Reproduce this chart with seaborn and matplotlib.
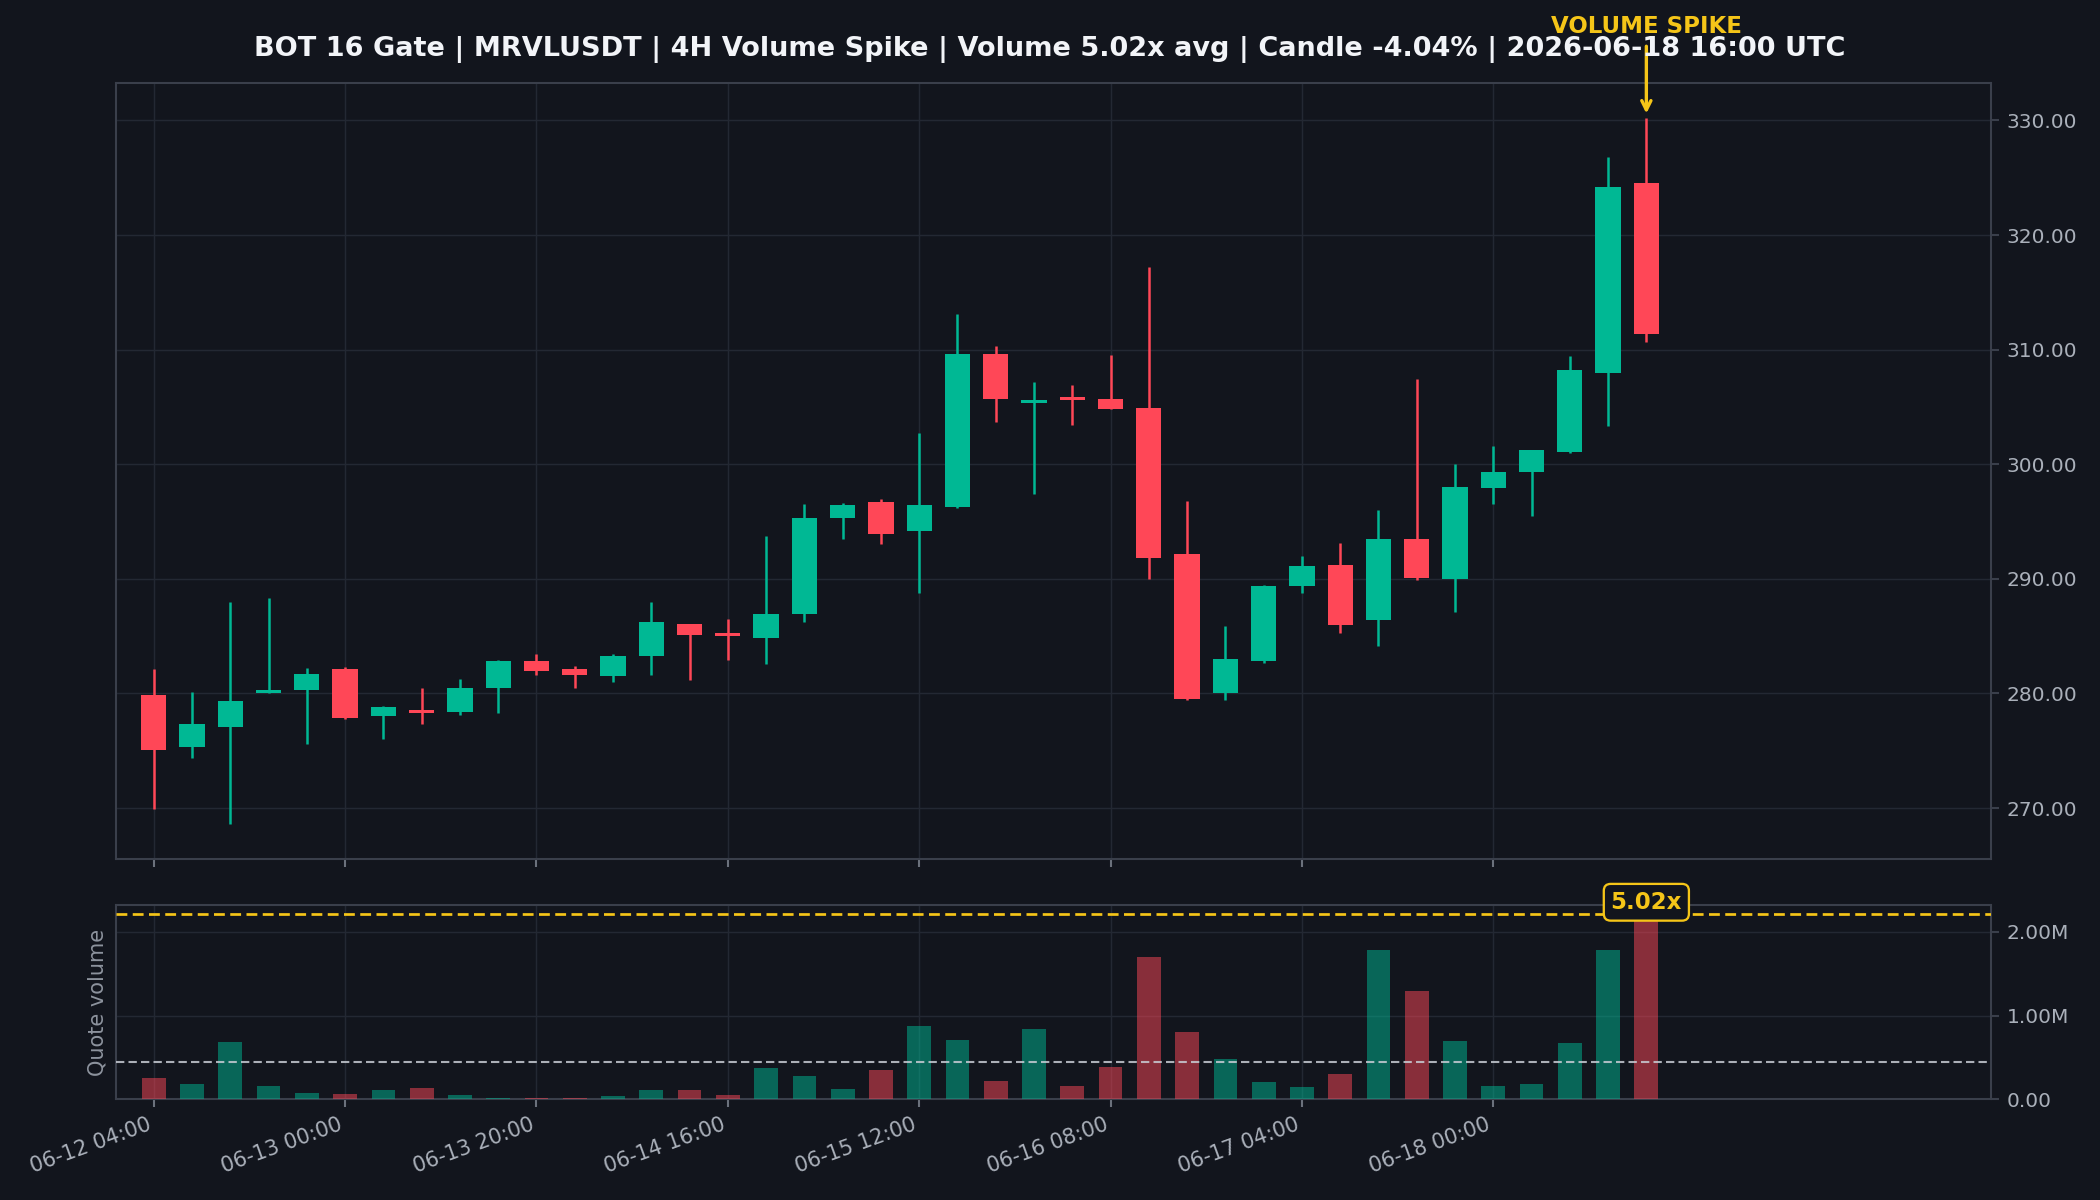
import pandas as pd
import seaborn as sns
import matplotlib.pyplot as plt
from matplotlib.ticker import FuncFormatter

# 4H candles, 2026-06-12 04:00 -> 2026-06-18 16:00 UTC
opens = [279.9, 275.3, 277.1, 280.0, 280.3, 282.1, 278.0, 278.6, 278.4, 280.5,
         282.8, 282.1, 281.5, 283.3, 286.1, 285.2, 284.8, 286.9, 295.3, 296.7,
         294.2, 296.3, 309.6, 305.3, 305.8, 305.7, 304.9, 292.2, 280.0, 282.8,
         289.4, 291.2, 286.4, 293.5, 290.0, 297.9, 299.3, 301.1, 308.0, 324.5]
highs = [282.1, 280.1, 288.0, 288.3, 282.2, 282.3, 278.9, 280.5, 281.3, 282.9,
         283.4, 282.4, 283.4, 288.0, 286.1, 286.5, 293.7, 296.5, 296.6, 297.0,
         302.7, 313.1, 310.3, 307.2, 306.9, 309.5, 317.2, 296.8, 285.9, 289.5,
         292.0, 293.1, 296.0, 307.4, 300.0, 301.6, 301.2, 309.4, 326.8, 330.2]
lows = [269.9, 274.4, 268.6, 280.0, 275.6, 277.8, 276.0, 277.3, 278.1, 278.3,
        281.6, 280.5, 281.0, 281.6, 281.2, 282.9, 282.6, 286.2, 293.5, 293.0,
        288.8, 296.2, 303.7, 297.4, 303.4, 304.8, 290.0, 279.4, 279.4, 282.7,
        288.8, 285.3, 284.1, 289.9, 287.1, 296.5, 295.5, 301.0, 303.3, 310.7]
closes = [275.1, 277.3, 279.3, 280.3, 281.7, 277.9, 278.8, 278.3, 280.5, 282.8,
          282.0, 281.6, 283.3, 286.2, 285.1, 285.0, 286.9, 295.3, 296.4, 293.9,
          296.4, 309.6, 305.7, 305.6, 305.6, 304.8, 291.8, 279.5, 283.0, 289.4,
          291.1, 286.0, 293.5, 290.1, 298.0, 299.3, 301.2, 308.2, 324.2, 311.4]
# quote volume, millions
volumes = [0.257, 0.185, 0.679, 0.161, 0.076, 0.064, 0.104, 0.137, 0.052, 0.016,
           0.016, 0.016, 0.040, 0.104, 0.112, 0.052, 0.378, 0.281, 0.125, 0.353,
           0.871, 0.703, 0.221, 0.835, 0.161, 0.390, 1.703, 0.799, 0.486, 0.209,
           0.149, 0.305, 1.787, 1.293, 0.691, 0.161, 0.185, 0.667, 1.787, 2.210]
avg_volume = 0.44
spike_ratio = 5.02
candle_change = -4.04

tick_labels = ["06-12 04:00", "06-13 00:00", "06-13 20:00", "06-14 16:00",
               "06-15 12:00", "06-16 08:00", "06-17 04:00", "06-18 00:00"]
price_ticks = [270, 280, 290, 300, 310, 320, 330]
volume_ticks = [0, 1, 2]

BG = "#12151d"
GRID = "#232833"
SPINE = "#3a3f4b"
TXT = "#aab0ba"
GREEN = "#00b894"
RED = "#ff4757"
YELLOW = "#f5c518"

df = pd.DataFrame({"open": opens, "high": highs, "low": lows,
                   "close": closes, "volume": volumes})
df["idx"] = range(len(df))
df["dir"] = ["up" if c >= o else "down" for o, c in zip(df.open, df.close)]
colors = [GREEN if d == "up" else RED for d in df["dir"]]

sns.set_theme(style="dark", rc={
    "figure.facecolor": BG, "axes.facecolor": BG, "axes.edgecolor": SPINE,
    "axes.linewidth": 1.0, "grid.color": GRID, "text.color": "white",
    "xtick.color": TXT, "ytick.color": TXT, "axes.labelcolor": TXT,
    "patch.edgecolor": "none", "patch.linewidth": 0,
})
plt.rcParams["font.family"] = ["DejaVu Sans"]

fig, (ax, axv) = plt.subplots(2, 1, figsize=(14, 8), dpi=150, sharex=True,
                              gridspec_kw=dict(height_ratios=[4, 1]))
fig.subplots_adjust(left=0.055, right=0.948, top=0.931, bottom=0.084, hspace=0.094)

# candles
ax.vlines(df.idx, df.low, df.high, colors=colors, lw=1.2, zorder=2)
body_low = df[["open", "close"]].min(axis=1)
body_h = (df.close - df.open).abs().clip(lower=0.3)
ax.bar(df.idx, body_h, bottom=body_low, width=0.66, color=colors,
       linewidth=0, edgecolor="none", zorder=3)

span = df.high.max() - df.low.min()
ax.set_ylim(df.low.min() - 0.05 * span, df.high.max() + 0.05 * span)
ax.set_yticks(price_ticks)
ax.yaxis.set_major_formatter(FuncFormatter(lambda v, p: f"{v:.2f}"))

# volume
sns.barplot(data=df, x="idx", y="volume", hue="dir",
            palette={"up": GREEN, "down": RED}, native_scale=True, dodge=False,
            width=0.62, saturation=1, alpha=0.5, errorbar=None, legend=False,
            linewidth=0, edgecolor="none", ax=axv, zorder=3)
spike = volumes[-1]
axv.axhline(spike, color=YELLOW, lw=1.3, ls=(0, (4, 2)), zorder=4)
axv.axhline(avg_volume, color="#c8ccd4", lw=1.0, ls=(0, (4, 2)), alpha=0.85, zorder=4)
axv.set_ylim(0, spike * 1.05)
axv.set_yticks(volume_ticks)
axv.yaxis.set_major_formatter(
    FuncFormatter(lambda v, p: "0.00" if v == 0 else f"{v:.2f}M"))
axv.set_xlabel("")
axv.set_ylabel("Quote volume", fontsize=10, color="#8d939e")
axv.text(df.idx.iloc[-1], spike * 1.065, f"{spike_ratio:.2f}x", ha="center",
         va="center", color=YELLOW, fontsize=11, fontweight="bold", zorder=6,
         clip_on=False,
         bbox=dict(boxstyle="round,pad=0.3", fc=BG, ec=YELLOW, lw=1.1))

for a in (ax, axv):
    a.grid(True, color=GRID, lw=0.7)
    a.set_axisbelow(True)
    a.yaxis.tick_right()
    a.tick_params(axis="y", right=True, left=False, length=4, width=1,
                  color=SPINE, labelsize=9.7, labelcolor=TXT)
    a.tick_params(axis="x", bottom=True, length=4, width=1, color="#6b717c")
    for s in a.spines.values():
        s.set_color(SPINE)

axv.set_xticks(df.idx[::5])
axv.set_xticklabels(tick_labels, rotation=20, ha="right", fontsize=10, color=TXT)
ax.set_xlim(-1, 48)

# title and spike marker
fig.suptitle(f"BOT 16 Gate | MRVLUSDT | 4H Volume Spike | Volume {spike_ratio:.2f}x avg | "
             f"Candle {candle_change:.2f}% | 2026-06-18 16:00 UTC",
             y=0.97, fontsize=13, fontweight="bold", color="#f2f4f8")
last = df.idx.iloc[-1]
ax.annotate("VOLUME SPIKE", xy=(last, df.high.iloc[-1] + 0.4),
            xytext=(last, 0.978), textcoords=("data", "figure fraction"),
            ha="center", va="center", color=YELLOW, fontsize=11,
            fontweight="bold", annotation_clip=False,
            arrowprops=dict(arrowstyle="->", color=YELLOW, lw=1.6,
                            shrinkA=2, shrinkB=0))

plt.savefig("out.png", dpi=150, facecolor=BG)
